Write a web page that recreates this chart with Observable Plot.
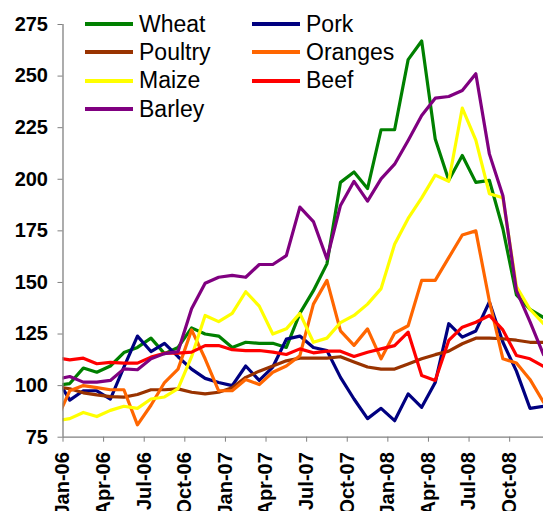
<!DOCTYPE html>
<html><head><meta charset="utf-8">
<script src="https://cdn.jsdelivr.net/npm/d3@7"></script>
<script src="https://cdn.jsdelivr.net/npm/@observablehq/plot@0.6"></script>
<style>
body{margin:0;background:#fff;font-family:"Liberation Sans",Arial,sans-serif;}
#wrap{position:relative;width:543px;height:511px;overflow:hidden;}
#legend{position:absolute;left:85px;top:10px;display:grid;grid-template-columns:167px 170px;grid-auto-rows:28.3px;}
.item{display:flex;align-items:center;font-size:23px;color:#000;white-space:nowrap;}
.sw{display:inline-block;width:48px;height:4px;margin-right:6px;flex:none;}
</style></head><body><div id="wrap"><div id="legend"></div></div>
<script>
// months Dec-05 .. Dec-08 (Dec-05 lies left of the axis and is clipped)
const months = ["Dec-05","Jan-06","Feb-06","Mar-06","Apr-06","May-06","Jun-06","Jul-06","Aug-06","Sep-06","Oct-06","Nov-06","Dec-06",
  "Jan-07","Feb-07","Mar-07","Apr-07","May-07","Jun-07","Jul-07","Aug-07","Sep-07","Oct-07","Nov-07","Dec-07",
  "Jan-08","Feb-08","Mar-08","Apr-08","May-08","Jun-08","Jul-08","Aug-08","Sep-08","Oct-08","Nov-08","Dec-08"];
const tickLabels = ["Jan-06","Apr-06","Jul-06","Oct-06","Jan-07","Apr-07","Jul-07","Oct-07","Jan-08","Apr-08","Jul-08","Oct-08"];
const yTicks = [75,100,125,150,175,200,225,250,275];

const seriesNames = ["Wheat","Pork","Poultry","Oranges","Maize","Beef","Barley"];
const seriesColors = ["#008000","#000080","#993300","#FF6600","#FFFF00","#FF0000","#800080"];

const wheat   = [100,101,108.5,106.5,109.5,116,118.5,123,115.5,118.5,128,125,124,118.5,121,120.5,120.5,118.5,135,146,159,198.5,203.5,195.5,224,224,258,267,219.5,199.5,211.5,198.5,199.5,176,144,137,133];
const pork    = [104,93,97.5,97.5,93.5,109,124,116.5,120.5,114,108,103.5,101.5,100,109.5,102.5,109,122.5,124,118.5,117,104,93.5,84,89,83,96,89.5,101.5,130,123.5,126.5,140.5,121,107,89,90];
const poultry = [99.5,98.5,96.5,95.5,94.7,94.4,95.7,98,98,98.4,96.8,96,96.8,99,104,107,109.5,112,113.3,113.3,113.3,114,111.5,109,108,108,110.5,113,115,116.7,120.3,123,123,122.7,122,121,121];
const oranges = [83,97.5,100,99,98,98,81,90.5,101.5,108,127,113,97.5,97.5,103,100.5,106.5,109.5,114.5,139.5,151,126.5,119.5,127.5,113,125.5,129,151,151,162,173,175,141,113,111,103,92];
const maize   = [83,84,87,85,88,90,89,93.5,94.5,98.5,114,134,131,135,145.5,138.5,125,127.5,135,121,123,130.5,134,139.5,147,168.5,181,191,202,199,234.5,219,193,191,148,137,130];
const beef    = [113.5,112.5,113.3,110.6,111.3,110.9,110.9,113.8,115.7,115.7,116.2,119.4,119.4,117.4,117,117,116.2,115.1,117.8,115.9,116.7,116.7,114.1,116.2,117.8,119.4,125.9,104.9,102.5,121.9,128.3,130.7,134,127,114.6,113,109.3];
const barley  = [103,104.4,101.7,101.7,102.5,108.1,107.7,113,115.5,116.5,137.2,149.6,152.5,153.4,152.5,158.7,158.7,163,186.5,179.5,161.4,187.3,199,189.4,200.2,207.3,218.8,230.9,239.3,240.1,243,251.1,212.3,192,146,131,115];

const seriesValues = [wheat,pork,poultry,oranges,maize,beef,barley];

// category centres: month index i sits half a category right of its boundary tick
const data = [];
seriesNames.forEach((name, s) => {
  seriesValues[s].forEach((v, i) => data.push({series: name, month: months[i], t: i - 0.5, v}));
});
const tickPos = tickLabels.map(l => months.indexOf(l) - 1);

const chart = Plot.plot({
  width: 543, height: 511,
  marginLeft: 62.5, marginRight: 0, marginTop: 24, marginBottom: 74.3,
  style: {fontFamily: '"Liberation Sans", Arial, sans-serif', background: "#fff", overflow: "visible"},
  x: {type: "linear", domain: [0, 35.5]},
  y: {domain: [75, 275]},
  color: {domain: seriesNames, range: seriesColors},
  marks: [
    Plot.line(data, {x: "t", y: "v", z: "series", stroke: "series", strokeWidth: 3.2, strokeLinejoin: "round", clip: true}),
    Plot.ruleX([0], {stroke: "#808080", strokeWidth: 1.3}),
    Plot.ruleY([75], {stroke: "#808080", strokeWidth: 1.3}),
    Plot.axisY({ticks: yTicks, tickSize: 5, tickPadding: 10, stroke: "#808080", fill: "#000", fontSize: 20, fontWeight: "bold", label: null}),
    Plot.axisX({ticks: tickPos, tickFormat: (d, i) => tickLabels[i], tickSize: 5, tickPadding: 10, tickRotate: -90, stroke: "#808080", fill: "#000", fontSize: 20, fontWeight: "bold", label: null})
  ]
});
document.getElementById("wrap").prepend(chart);

const legend = document.getElementById("legend");
seriesNames.forEach((name, s) => {
  const item = document.createElement("div");
  item.className = "item";
  const sw = document.createElement("span");
  sw.className = "sw";
  sw.style.background = seriesColors[s];
  item.appendChild(sw);
  item.appendChild(document.createTextNode(name));
  legend.appendChild(item);
});
</script>
</body></html>
